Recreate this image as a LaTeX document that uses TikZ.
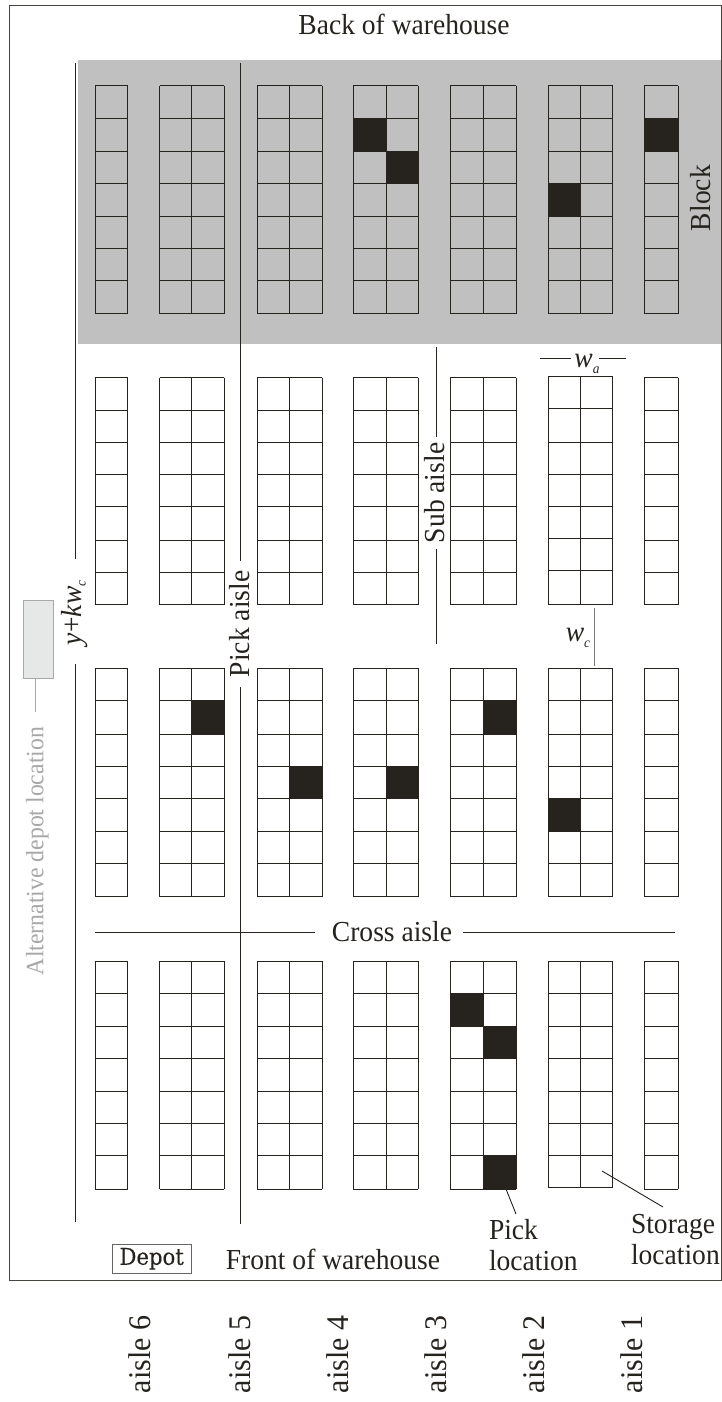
\documentclass[tikz,border=0pt]{standalone}
\usepackage{fontspec}
\setmainfont[FakeStretch=0.95]{Liberation Serif}
\newfontfamily\depotfont[FakeBold=0.3,FakeStretch=0.92]{DejaVu Serif}
\definecolor{ink}{HTML}{26231E}
\definecolor{blockgray}{HTML}{C0C0C0}
\definecolor{altgray}{HTML}{A8A8A8}
\definecolor{altfill}{HTML}{E6E7E7}
\newcommand{\rackgrid}[2]{%
  \foreach \rx [count=\ri] in {#1} {\ifnum\ri=1 \xdef\rxfirst{\rx}\fi \xdef\rxlast{\rx}}%
  \foreach \ry [count=\ri] in {#2} {\ifnum\ri=1 \xdef\ryfirst{\ry}\fi \xdef\rylast{\ry}}%
  \foreach \rx in {#1} {\draw[gridline] (\rx,\ryfirst) -- (\rx,\rylast);}%
  \foreach \ry in {#2} {\draw[gridline] (\rxfirst,\ry) -- (\rxlast,\ry);}%
}
\newcommand{\rackband}[1]{%
  \rackgrid{95,127.5}{#1}%
  \rackgrid{159.5,191.7,224}{#1}%
  \rackgrid{257.4,289.7,322}{#1}%
  \rackgrid{353.4,386,418.3}{#1}%
  \rackgrid{450,483.7,516}{#1}%
  \rackgrid{644.4,678.4}{#1}%
}
\newcommand{\pickcell}[4]{\fill[ink] (#1,#3) rectangle (#2,#4);}
\tikzset{
  gridline/.style={draw=ink,line width=0.9pt},
  leader/.style={draw=ink,line width=0.9pt},
  lbl/.style={inner sep=0pt,outer sep=0pt,text=ink,font=\fontsize{29}{32}\selectfont},
  rlbl/.style={lbl,rotate=90,anchor=base west},
  altlbl/.style={rlbl,text=altgray,font=\fontsize{25}{28}\selectfont},
  ital/.style={lbl,font=\fontsize{29}{32}\selectfont\itshape},
  alab/.style={rlbl,font=\fontsize{31.5}{34}\selectfont}
}
\begin{document}
\begin{tikzpicture}[x=1pt,y=-1pt]
\useasboundingbox (0,0) rectangle (722,1402);
\fill[white] (0,0) rectangle (722,1402);
\fill[blockgray] (78,60) rectangle (720.5,344);
\draw[draw=ink!85!white,line width=1pt] (9.5,6) rectangle (721,1280.7);
% racks
\rackband{85.7,118,151.5,183.7,216,248,280.3,313.7}
\rackband{377.7,410,442,474,506.3,540.3,572.3,604.7}
\rackband{668.3,700.7,734.3,766.7,798.7,831,863,896.7}
\rackband{961,993,1026,1058,1091,1123.3,1155.3,1189}
\rackgrid{548,580.3,612.7}{85.7,118,151.5,183.7,216,248,280.3,313.7}
\rackgrid{548,580.3,612.7}{376.2,408.5,442,474,506.3,538.5,570.7,604.7}
\rackgrid{548,580.3,612.7}{668.3,700.7,734.3,766.7,798.7,831,863,896.7}
\rackgrid{548,580.3,612.7}{961,993,1026,1058,1091,1123.3,1155.3,1187.5}
% picks
\pickcell{353.5}{386}{118}{151.5}
\pickcell{386}{418}{151.5}{184}
\pickcell{548}{580}{184}{216}
\pickcell{644.5}{678.5}{118}{151.5}
\pickcell{191.5}{224}{700.7}{734.3}
\pickcell{289.5}{322}{766.7}{799}
\pickcell{386}{418}{766.7}{799}
\pickcell{484}{516}{700.7}{734.3}
\pickcell{548}{580}{799}{831}
\pickcell{450}{484}{993}{1026}
\pickcell{484}{516}{1026}{1058}
\pickcell{484}{516}{1155.3}{1189}
% labels
\node[lbl,anchor=base] (back) at (404,35) {Back of warehouse};
\node[lbl,anchor=base] (front) at (333,1269) {Front of warehouse};
\node[rlbl] (block) at (710,231) {Block};
\node[rlbl] (pickaisle) at (249.5,677) {Pick aisle};
\node[rlbl] (subaisle) at (444,543) {Sub aisle};
\node[lbl,anchor=base] (crossaisle) at (392,941) {Cross aisle};
\node[lbl,anchor=base west] (picklbl) at (489,1239) {Pick};
\node[lbl,anchor=base west] (picklbltwo) at (489,1270.6) {location};
\node[lbl,anchor=base west] (storelbl) at (631,1233) {Storage};
\node[lbl,anchor=base west] (storelbltwo) at (631,1264) {location};
\node[altlbl] (altlabel) at (43.3,975) {Alternative depot location};
\node[ital,rotate=90,anchor=base west] (ykw) at (81.7,645) {y\textup{+}kw\raisebox{-4pt}{\fontsize{14}{14}\selectfont c}};
\node[ital,anchor=base] (wa) at (587,367) {w\raisebox{-6pt}{\fontsize{14}{14}\selectfont a}};
\node[ital,anchor=base] (wc) at (578,641) {w\raisebox{-6pt}{\fontsize{14}{14}\selectfont c}};
\node[alab] (a6) at (150,1393) {aisle 6};
\node[alab] (a5) at (250,1393) {aisle 5};
\node[alab] (a4) at (348,1393) {aisle 4};
\node[alab] (a3) at (446,1393) {aisle 3};
\node[alab] (a2) at (544,1393) {aisle 2};
\node[alab] (a1) at (642,1393) {aisle 1};
\node[draw=ink!70!white,line width=0.8pt,minimum width=78.5pt,minimum height=29.3pt,inner sep=0pt,anchor=north west,text=ink,font=\fontsize{23}{26}\depotfont] (depot) at (112,1243.7) {Depot};
\node[draw=altgray,fill=altfill,line width=1pt,minimum width=29.2pt,minimum height=78pt,inner sep=0pt,anchor=north west] (altdepot) at (23.3,600) {};
% dimension and leader lines
\coordinate (ykwa) at (75.3,63); \coordinate (ykwb) at (75.3,559);
\coordinate (ykwc) at (75.3,664); \coordinate (ykwd) at (75.3,1222);
\coordinate (paa) at (240.3,63); \coordinate (pab) at (240.3,561);
\coordinate (pac) at (240.3,687); \coordinate (pad) at (240.3,1224);
\coordinate (saa) at (436.3,347); \coordinate (sab) at (436.3,437);
\coordinate (sac) at (436.3,549); \coordinate (sad) at (436.3,644);
\coordinate (wa1) at (540,358); \coordinate (wa2) at (571,358);
\coordinate (wa3) at (599,358); \coordinate (wa4) at (626,358);
\coordinate (wc1) at (594,608); \coordinate (wc2) at (594,666);
\coordinate (ca1) at (95,932); \coordinate (ca2) at (315,932);
\coordinate (ca3) at (463,932); \coordinate (ca4) at (675,932);
\coordinate (alt2) at (35.7,712);
\coordinate (pl1) at (506,1189); \coordinate (pl2) at (516,1214);
\coordinate (sl1) at (602,1171); \coordinate (sl2) at (663,1207);
\draw[leader] (ykwa) -- (ykwb) (ykwc) -- (ykwd);
\draw[leader] (paa) -- (pab) (pac) -- (pad);
\draw[leader] (saa) -- (sab) (sac) -- (sad);
\draw[leader] (wa1) -- (wa2) (wa3) -- (wa4);
\draw[leader,draw=ink!60!white] (wc1) -- (wc2);
\draw[leader] (ca1) -- (ca2) (ca3) -- (ca4);
\draw[leader] (pl1) -- (pl2);
\draw[leader] (sl1) -- (sl2);
\draw[draw=altgray,line width=1pt] (altdepot.south -| alt2) -- (alt2);
\end{tikzpicture}
\end{document}
